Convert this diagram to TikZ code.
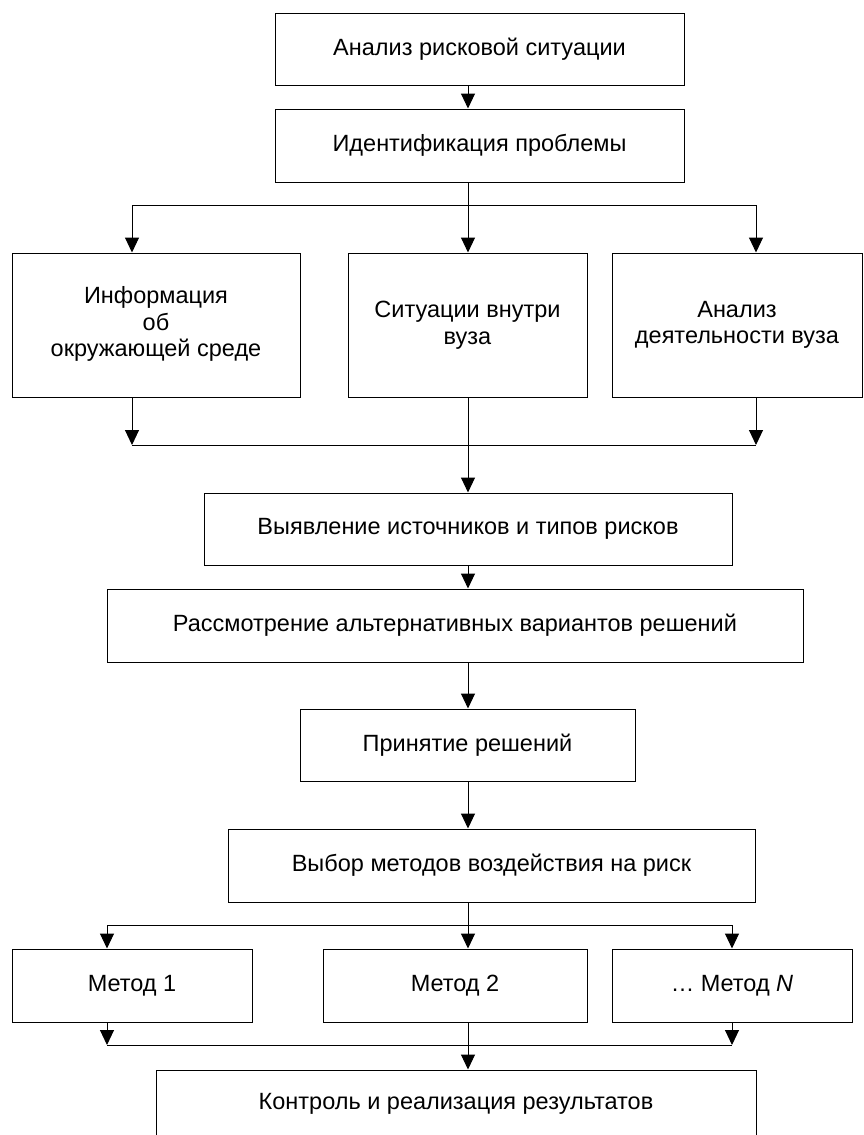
\documentclass[tikz,border=0pt]{standalone}
\usepackage{fontspec}
\setmainfont{Liberation Sans}
\usetikzlibrary{arrows.meta}

\begin{document}
\begin{tikzpicture}[x=1pt, y=-1pt, line width=1pt,
  box/.style={draw, line width=1pt, inner sep=0pt, align=center,
    font=\fontsize{23.5}{26.5}\selectfont},
  arr/.style={-{Triangle[length=15pt, width=14pt]}}]
  \useasboundingbox (0,0) rectangle (864,1135);
  \clip (0,0) rectangle (864,1135);
  \coordinate (axis) at (468,0);
  \coordinate (lx) at (132,0);
  \coordinate (rx) at (756,0);
  \coordinate (lxx) at (107,0);
  \coordinate (rxx) at (732,0);
  \coordinate (fork) at (468,205);
  \coordinate (join) at (468,445);
  \coordinate (forkm) at (468,925);
  \coordinate (joinm) at (468,1045);

  % boxes
  \node[box, minimum width=409, minimum height=72] (risk) at (479.5,49) {Анализ рисковой ситуации};
  \node[box, minimum width=409, minimum height=73] (ident) at (479.5,145.5) {Идентификация проблемы};
  \node[box, minimum width=288, minimum height=144] (info) at (156,325)
    {\raisebox{-5pt}{\begin{tabular}{@{}c@{}}Информация\\об\\окружающей среде\end{tabular}}};
  \node[box, minimum width=239, minimum height=144] (inside) at (467.5,325) {Ситуации внутри\\вуза};
  \node[box, minimum width=250, minimum height=144] (activity) at (737,325)
    {\raisebox{6pt}{\begin{tabular}{@{}c@{}}Анализ\\деятельности вуза\end{tabular}}};
  \node[box, minimum width=528, minimum height=72] (sources) at (468,529) {Выявление источников и типов рисков};
  \node[box, minimum width=696, minimum height=73] (altern) at (455,625.5) {Рассмотрение альтернативных вариантов решений};
  \node[box, minimum width=335, minimum height=72] (decision) at (467.5,745) {Принятие решений};
  \node[box, minimum width=527, minimum height=73] (choice) at (491.5,865.5) {Выбор методов воздействия на риск};
  \node[box, minimum width=240, minimum height=73] (m1) at (132,985.5) {Метод 1};
  \node[box, minimum width=264, minimum height=73] (m2) at (455,985.5) {Метод 2};
  \node[box, minimum width=240, minimum height=73] (mN) at (732,985.5) {\raisebox{-8pt}{\ldots{} Метод \textit{N}}};
  \node[box, minimum width=600, minimum height=67] (control) at (456,1103.5) {Контроль и реализация результатов};

  % upper connectors
  \draw[arr] (risk.south -| axis) -- (ident.north -| axis);
  \draw (ident.south -| axis) -- (fork);
  \draw[arr] (fork) -| (info.north -| lx);
  \draw[arr] (fork) -- (inside.north -| axis);
  \draw[arr] (fork) -| (activity.north -| rx);
  \draw[arr] (info.south -| lx) -- (lx |- join);
  \draw[arr] (activity.south -| rx) -- (rx |- join);
  \draw (lx |- join) -- (rx |- join);
  \draw[arr] (inside.south -| axis) -- (sources.north -| axis);
  \draw[arr] (sources.south -| axis) -- (altern.north -| axis);
  \draw[arr] (altern.south -| axis) -- (decision.north -| axis);
  \draw[arr] (decision.south -| axis) -- (choice.north -| axis);

  % lower connectors
  \draw (choice.south -| axis) -- (forkm);
  \draw[arr] (forkm) -| (m1.north -| lxx);
  \draw[arr] (forkm) -- (m2.north -| axis);
  \draw[arr] (forkm) -| (mN.north -| rxx);
  \draw[arr] (m1.south -| lxx) -- (lxx |- joinm);
  \draw[arr] (mN.south -| rxx) -- (rxx |- joinm);
  \draw (lxx |- joinm) -- (rxx |- joinm);
  \draw[arr] (m2.south -| axis) -- (control.north -| axis);
\end{tikzpicture}
\end{document}
